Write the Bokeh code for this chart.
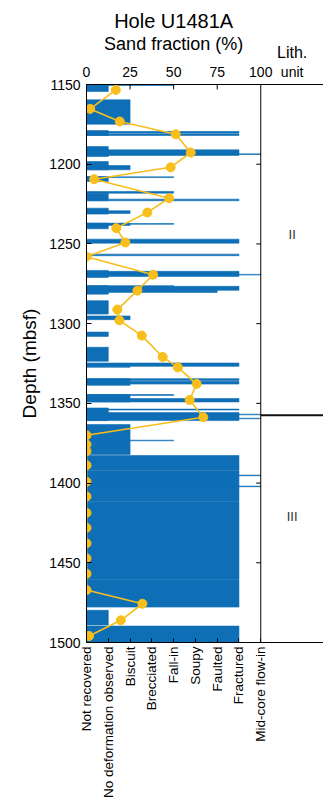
import math
from bokeh.plotting import figure
from bokeh.layouts import column
from bokeh.models import Range1d, LinearAxis, FixedTicker, Label, Span, ColumnDataSource
from bokeh.core.properties import value
from bokeh.embed import file_html
from bokeh.resources import INLINE

# ---------------- data ----------------
depth_ticks = [1150, 1200, 1250, 1300, 1350, 1400, 1450, 1500]
sand_ticks = [0, 25, 50, 75, 100]
disturbance_names = ["Not recovered", "No deformation observed", "Biscuit", "Brecciated",
                     "Fall-in", "Soupy", "Faulted", "Fractured", "Mid-core flow-in"]

# drilling disturbance intervals: top depth, bottom depth, disturbance class index
dist_top = [1150.0, 1150.3, 1159.6, 1178.9, 1179.5, 1181.0, 1188.9, 1191.0, 1193.5,
            1198.3, 1200.8, 1207.7, 1207.9, 1217.1, 1218.2, 1221.9, 1227.6, 1229.2,
            1237.0, 1237.0, 1237.2, 1247.0, 1256.4, 1266.6, 1267.2, 1269.1, 1276.2,
            1276.2, 1276.6, 1279.1, 1285.6, 1295.2, 1305.3, 1314.8, 1324.7, 1326.8,
            1334.5, 1334.5, 1336.2, 1344.5, 1344.5, 1347.0, 1352.9, 1353.6, 1355.8,
            1356.8, 1359.3, 1363.3, 1373.1, 1382.7, 1392.2, 1411.4, 1460.5, 1395.0,
            1401.9, 1479.8, 1489.7]
dist_bottom = [1150.6, 1154.4, 1174.9, 1182.0, 1180.5, 1182.0, 1195.2, 1194.5, 1193.9,
               1203.5, 1203.5, 1210.8, 1208.4, 1218.2, 1222.9, 1222.9, 1231.3, 1230.9,
               1240.5, 1238.4, 1237.7, 1249.5, 1257.4, 1271.0, 1270.4, 1269.5, 1281.5,
               1279.8, 1279.1, 1280.4, 1294.0, 1297.5, 1308.0, 1323.6, 1326.8, 1327.4,
               1338.7, 1335.6, 1337.9, 1349.1, 1345.0, 1349.1, 1360.8, 1354.2, 1360.8,
               1357.2, 1359.7, 1382.1, 1373.5, 1392.0, 1411.2, 1460.3, 1477.8, 1395.4,
               1402.3, 1489.0, 1500.0]
dist_level = [4, 1, 2, 1, 7, 7, 1, 7, 8,
              1, 2, 1, 4, 4, 1, 7, 1, 2,
              1, 2, 4, 7, 7, 1, 7, 8, 1,
              4, 7, 6, 1, 2, 1, 1, 7, 2,
              2, 7, 7, 2, 4, 7, 1, 7, 7,
              8, 8, 2, 4, 7, 7, 7, 7, 8,
              8, 1, 7]

# sand fraction samples
sand_depth = [1153.4, 1165.3, 1173.2, 1181.2, 1192.7, 1201.9, 1209.4, 1221.3, 1230.3,
              1240.1, 1249.1, 1258.0, 1269.3, 1279.3, 1291.2, 1297.9, 1307.5, 1320.9,
              1327.4, 1337.8, 1347.9, 1358.7, 1370.0, 1375.8, 1380.0, 1388.8, 1399.2,
              1408.4, 1418.7, 1428.1, 1437.8, 1447.2, 1456.9, 1467.1, 1475.7, 1486.1,
              1495.9]
sand_pct = [16.8, 2.1, 19.1, 51.2, 59.8, 48.3, 4.4, 47.4, 34.9,
            17.1, 22.3, 0.0, 38.2, 29.2, 17.7, 18.9, 31.7, 43.7,
            52.4, 63.2, 59.2, 67.0, 0.0, 0.0, 0.0, 0.0, 0.0,
            0.0, 0.0, 0.0, 0.0, 0.0, 0.0, 0.0, 32.1, 19.7,
            1.5]

# lithologic units
unit_names = ["II", "III"]
unit_label_depth = [1244, 1421]
unit_boundaries = [1357.4]

# ---------------- styling ----------------
BLUE = "#0F6FB6"
YELLOW = "#F8BE1B"
FONT = "Liberation Sans"
X_END = 136.0          # sand-fraction units spanned by the whole frame (main + lith column)
LITH_X = 118.0
HEADER_H = 60
W = 323

# ---------------- header (title texts) ----------------
h = figure(width=W, height=HEADER_H, output_backend="svg", toolbar_location=None,
           x_range=Range1d(0, X_END), y_range=Range1d(HEADER_H, 0),
           x_axis_location=None, y_axis_location=None,
           min_border_left=86, min_border_right=0, min_border_top=0, min_border_bottom=0)
h.outline_line_color = None
h.grid.visible = False
h.text(x=[50], y=[20], text=["Hole U1481A"], text_align="center", text_baseline="middle",
       text_font=value(FONT), text_font_size="20px", text_color="black")
h.text(x=[50], y=[43], text=["Sand fraction (%)"], text_align="center", text_baseline="middle",
       text_font=value(FONT), text_font_size="18px", text_color="black")
h.text(x=[LITH_X], y=[52], text=["Lith."], text_align="center", text_baseline="middle",
       text_font=value(FONT), text_font_size="16px", text_color="black")

# ---------------- main plot ----------------
p = figure(width=W, height=805 - HEADER_H, output_backend="svg", toolbar_location=None,
           x_range=Range1d(0, X_END), y_range=Range1d(1500, 1150),
           x_axis_location=None, y_axis_location="left",
           min_border_left=86, min_border_right=0, min_border_top=84 - HEADER_H,
           min_border_bottom=163)
p.outline_line_color = None
p.grid.visible = False

p.extra_x_ranges = {"dist": Range1d(0, X_END * 8 / 100)}

# left axis
ya = p.yaxis[0]
ya.ticker = FixedTicker(ticks=depth_ticks)
ya.major_tick_in = 5
ya.major_tick_out = 0
ya.minor_tick_line_color = None
ya.major_label_standoff = 6
ya.major_label_text_font = FONT
ya.major_label_text_font_size = "14px"
ya.major_label_text_color = "black"
ya.axis_label = "Depth (mbsf)"
ya.axis_label_text_font = FONT
ya.axis_label_text_font_size = "19px"
ya.axis_label_text_font_style = "normal"
ya.axis_label_text_color = "black"
ya.axis_label_standoff = 6
ya.axis_line_color = "black"

# top axis (sand fraction) -- also carries the "unit" header of the lith column
top_ticks = sand_ticks + [LITH_X]
ta = LinearAxis(ticker=FixedTicker(ticks=top_ticks), major_tick_in=0, major_tick_out=0,
                major_label_overrides={LITH_X: "unit"},
                minor_tick_line_color=None, major_label_standoff=5,
                major_label_text_font=FONT, major_label_text_font_size="14px",
                major_label_text_color="black", axis_line_color="black")
p.add_layout(ta, "above")

# bottom axis (disturbance classes)
ba = LinearAxis(x_range_name="dist", ticker=FixedTicker(ticks=list(range(len(disturbance_names)))),
                major_label_overrides={i: n for i, n in enumerate(disturbance_names)},
                major_label_orientation=math.pi / 2, major_tick_in=4, major_tick_out=0,
                minor_tick_line_color=None, major_label_standoff=4,
                major_label_text_font=FONT, major_label_text_font_size="13.5px",
                major_label_text_color="black", axis_line_color="black")
p.add_layout(ba, "below")

# disturbance bars
src = ColumnDataSource(dict(top=dist_top, bottom=dist_bottom, level=dist_level))
p.quad(left=0, right="level", top="top", bottom="bottom", source=src, x_range_name="dist",
       fill_color=BLUE, line_color=BLUE, line_width=0.6)

# sand fraction
p.line(sand_pct, sand_depth, line_color=YELLOW, line_width=1.6)
p.scatter(sand_pct, sand_depth, size=9, fill_color=YELLOW, line_color=YELLOW)

# right border of main panel + inward ticks (right side and top side)
p.add_layout(Span(location=100, dimension="height", line_color="black", line_width=1))
inner = depth_ticks[1:-1]
p.segment(x0=[100] * len(inner), x1=[97.4] * len(inner), y0=inner, y1=inner,
          line_color="black", line_width=1)
inner_x = sand_ticks[1:-1]
p.segment(x0=inner_x, x1=inner_x, y0=[1150] * len(inner_x), y1=[1153.1] * len(inner_x),
          line_color="black", line_width=1)

# lith unit boundaries
p.segment(x0=[100] * len(unit_boundaries), x1=[X_END] * len(unit_boundaries),
          y0=unit_boundaries, y1=unit_boundaries, line_color="#111111", line_width=2)

for name, d in zip(unit_names, unit_label_depth):
    p.add_layout(Label(x=LITH_X, y=d, text=name, text_align="center", text_baseline="middle",
                       text_font=FONT, text_font_size="13px", text_color="#333333"))

layout = column(h, p, spacing=0)
open("out.html", "w").write(file_html(layout, INLINE))
